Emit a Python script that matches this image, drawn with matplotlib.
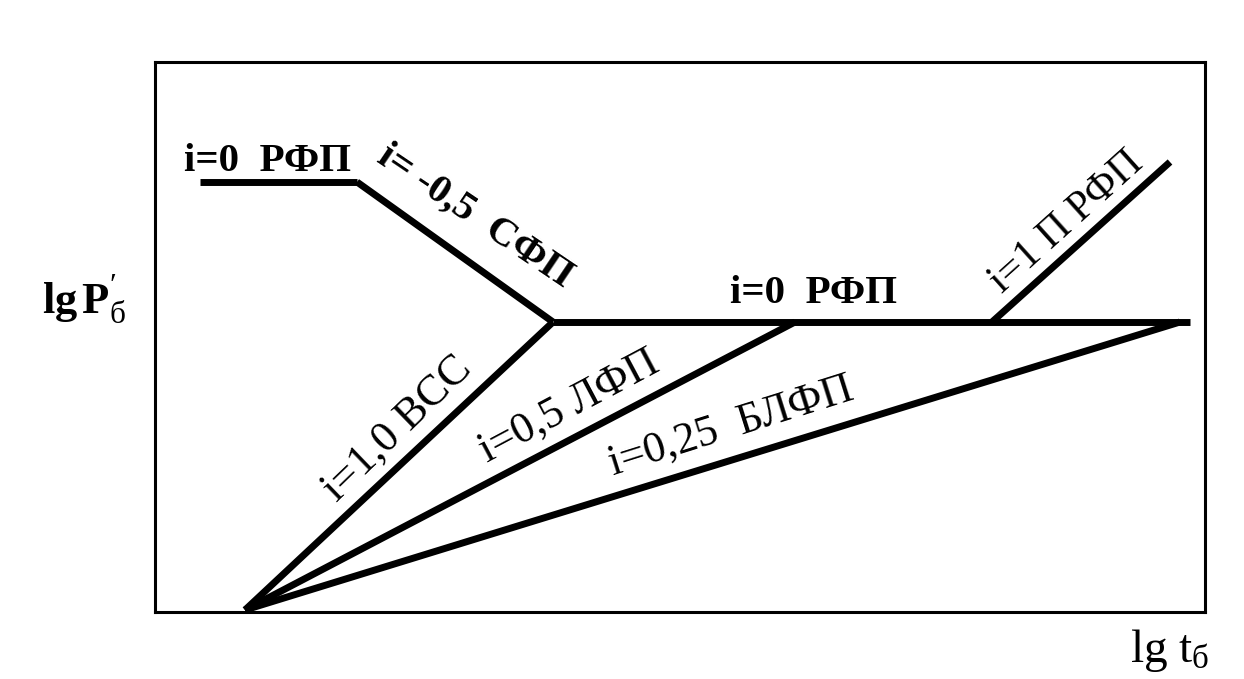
import matplotlib.pyplot as plt

plt.rcParams['font.family'] = ['Liberation Serif', 'DejaVu Serif']
plt.rcParams['mathtext.fontset'] = 'custom'
plt.rcParams['mathtext.rm'] = 'Liberation Serif'
plt.rcParams['mathtext.it'] = 'Liberation Serif:italic'
plt.rcParams['mathtext.bf'] = 'Liberation Serif:bold'

# точки схемы (условные единицы lg t, lg P)
origin = (0.90, 0.02)
junction = (3.98, 2.90)

# i=0 РФП (ранний)
rfp1_x = [0.45, 2.02]
rfp1_y = [4.30, 4.30]
# i=-0,5 СФП
sfp_x = [2.02, 3.98]
sfp_y = [4.30, 2.90]
# i=0 РФП (поздний)
rfp2_x = [3.98, 10.35]
rfp2_y = [2.90, 2.90]
# i=1,0 ВСС
vcc_x = [origin[0], junction[0]]
vcc_y = [origin[1], junction[1]]
# i=0,5 ЛФП
lfp_x = [0.90, 6.40]
lfp_y = [0.02, 2.90]
# i=0,25 БЛФП
blfp_x = [0.90, 10.25]
blfp_y = [0.02, 2.90]
# i=1 П РФП
prfp_x = [8.37, 10.15]
prfp_y = [2.90, 4.50]

labels = ['i=0  РФП', 'i= -0,5  СФП', 'i=0  РФП', 'i=1 П РФП',
          'i=1,0 ВСС', 'i=0,5 ЛФП', 'i=0,25  БЛФП']

fig = plt.figure(figsize=(12.44, 6.79), dpi=100)
ax = fig.add_axes([155 / 1244, 67 / 679, 1050 / 1244, 550 / 679])

lw = 5
for xs, ys in [(rfp1_x, rfp1_y), (sfp_x, sfp_y), (rfp2_x, rfp2_y),
               (vcc_x, vcc_y), (lfp_x, lfp_y), (blfp_x, blfp_y),
               (prfp_x, prfp_y)]:
    ax.plot(xs, ys, color='black', linewidth=lw, solid_capstyle='butt',
            solid_joinstyle='miter')

ax.set_xlim(0, 10.5)
ax.set_ylim(0, 5.5)
ax.set_xticks([])
ax.set_yticks([])
for sp in ax.spines.values():
    sp.set_linewidth(2.2)

fb = 29.5   # жирные подписи
fr = 31.5   # наклонные обычные
kw = dict(ha='center', va='center_baseline', rotation_mode='anchor')
ax.text(1.13, 4.55, labels[0], fontsize=fb, fontweight='bold', **kw)
ax.text(3.22, 3.99, labels[1], fontsize=fb, fontweight='bold',
        rotation=-34, **kw)
ax.text(6.59, 3.23, labels[2], fontsize=fb, fontweight='bold', **kw)
ax.text(9.08, 3.93, labels[3], fontsize=30, rotation=42, **kw)
ax.text(2.39, 1.87, labels[4], fontsize=fr, rotation=44, **kw)
ax.text(4.12, 2.10, labels[5], fontsize=fr, rotation=28, **kw)
ax.text(5.75, 1.90, labels[6], fontsize=fr, rotation=17.5, **kw)

# подписи осей
fig.text(84 / 1244, 1 - 300 / 679, r'$\mathbf{lg\,P}^{\prime}_{\mathrm{б}}$',
         fontsize=32, ha='center', va='center')
fig.text(1170 / 1244, 1 - 650 / 679, r'$\mathrm{lg\ t}_{\mathrm{б}}$',
         fontsize=34, ha='center', va='center')

fig.savefig('out.png', dpi=100)
